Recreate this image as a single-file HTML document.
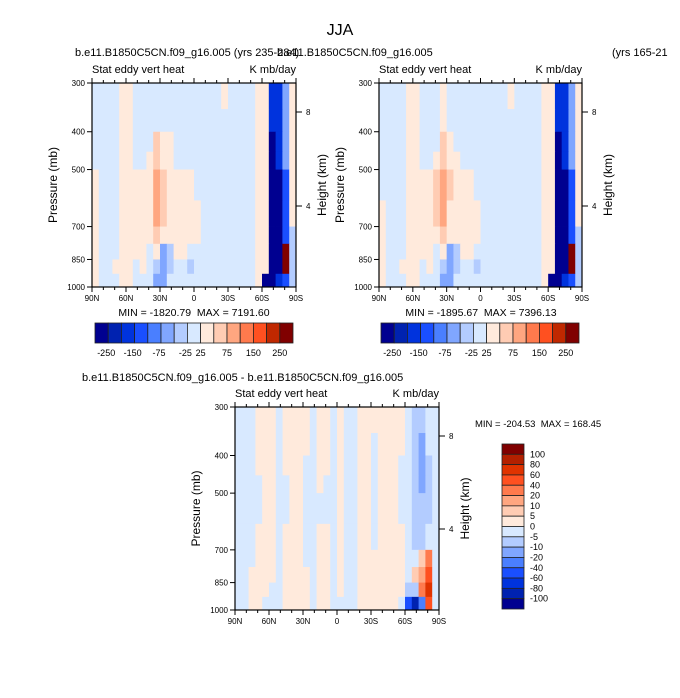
<!DOCTYPE html>
<html><head><meta charset="utf-8"><style>
body{margin:0;background:#fff}
svg{display:block;font-family:"Liberation Sans",sans-serif}
svg text{white-space:pre}
</style></head><body>
<svg id="fig" width="680" height="698" viewBox="0 0 680 698" xmlns="http://www.w3.org/2000/svg">
<rect width="680" height="698" fill="#fff"/>
<text x="340" y="35" font-size="16" text-anchor="middle">JJA</text>
<text x="75" y="56" font-size="11">b.e11.B1850C5CN.f09_g16.005 (yrs 235-284)</text>
<text x="277" y="56" font-size="11">b.e11.B1850C5CN.f09_g16.005</text>
<text x="612" y="56" font-size="11">(yrs 165-21</text>
<text x="82" y="381" font-size="11">b.e11.B1850C5CN.f09_g16.005 - b.e11.B1850C5CN.f09_g16.005</text>
<g id="panels"></g>
</svg>
<script>
// ---- data ----
const levels = [300,350,400,450,500,600,700,775,850,925,1000];
const xTickLabels = ["90N","60N","30N","0","30S","60S","90S"];
const yTickLabels = [300,400,500,700,850,1000];
const heightTicks = [8,4];
const bounds12 = [-250,-200,-150,-100,-75,-50,-25,25,50,75,100,150,200,250];
const cbLabels12 = ["-250","-150","-75","-25","25","75","150","250"];
const cbLabelIdx12 = [0,2,4,6,7,9,11,13];
const bounds3 = [-100,-80,-60,-40,-20,-10,-5,0,5,10,20,40,60,80,100];
const cbLabels3 = ["100","80","60","40","20","10","5","0","-5","-10","-20","-40","-60","-80","-100"];
// field rows top(300mb) to bottom(1000mb), 30 columns 90N->90S (6 deg each)
const field1 = [
[-10,-10,-10,-10,35,35,-10,-10,-10,-10,-10,-10,-10,-10,-10,-10,-10,-10,-10,35,-10,-10,-10,-10,35,35,-175,-175,-60,35],
[-10,-10,-10,-10,35,35,-10,-10,-10,-10,-10,-10,-10,-10,-10,-10,-10,-10,-10,-10,-10,-10,-10,-10,35,35,-175,-175,-60,35],
[-10,-10,-10,-10,35,35,-10,-10,-10,60,35,35,-10,-10,-10,-10,-10,-10,-10,-10,-10,-10,-10,-10,35,35,-300,-175,-60,35],
[-10,-10,-10,-10,35,35,-10,-10,35,60,35,35,-10,-10,-10,-10,-10,-10,-10,-10,-10,-10,-10,-10,35,35,-300,-175,-60,35],
[35,-10,-10,-10,35,35,35,35,35,90,60,35,35,35,35,-10,-10,-10,-10,-10,-10,-10,-10,-10,35,35,-300,-300,-120,35],
[35,-10,-10,-10,35,35,35,35,35,90,60,35,35,35,35,35,-10,-10,-10,-10,-10,-10,-10,-10,35,35,-300,-300,-120,35],
[35,-10,-10,-10,35,35,35,35,35,60,35,35,35,35,35,35,-10,-10,-10,-10,-10,-10,-10,-10,35,35,-300,-300,-120,-30],
[35,-10,-10,-10,35,35,35,35,-10,35,-60,-30,35,35,-10,-10,-10,-10,-10,-10,-10,-10,-10,-10,35,35,-300,-300,300,-30],
[35,-10,-10,35,35,35,-10,35,-10,-30,-60,-30,-10,-10,-30,-10,-10,-10,-10,-10,-10,-10,-10,-10,35,35,-300,-300,300,-30],
[35,-10,-10,-10,35,35,-10,-10,-10,-60,-60,-10,-10,-10,-10,-10,-10,-10,-10,-10,-10,-10,-10,-10,35,-300,-300,-175,-120,-30]
];
const field2 = [
[-10,-10,-10,-10,35,35,-10,-10,-10,35,-10,-10,-10,-10,-10,-10,-10,-10,-10,35,-10,-10,-10,-10,35,35,-175,-175,-60,35],
[-10,-10,-10,-10,35,35,-10,-10,-10,35,-10,-10,-10,-10,-10,-10,-10,-10,-10,-10,-10,-10,-10,-10,35,35,-175,-175,-60,35],
[-10,-10,-10,-10,35,35,-10,-10,-10,60,35,-10,-10,-10,-10,-10,-10,-10,-10,-10,-10,-10,-10,-10,35,35,-300,-175,-60,35],
[-10,-10,-10,-10,35,35,-10,-10,35,60,35,35,-10,-10,-10,-10,-10,-10,-10,-10,-10,-10,-10,-10,35,35,-300,-175,-60,35],
[-10,-10,-10,-10,35,35,35,35,60,90,60,35,35,35,-10,-10,-10,-10,-10,-10,-10,-10,-10,-10,35,35,-300,-300,-120,35],
[35,-10,-10,-10,35,35,35,35,60,90,35,35,35,35,35,-10,-10,-10,-10,-10,-10,-10,-10,-10,35,35,-300,-300,-120,35],
[35,-10,-10,-10,35,35,35,35,35,60,35,35,35,35,35,-10,-10,-10,-10,-10,-10,-10,-10,-10,35,35,-300,-300,-120,-30],
[35,-10,-10,-10,35,35,35,35,-10,35,-60,-30,35,35,-10,-10,-10,-10,-10,-10,-10,-10,-10,-10,35,35,-300,-300,300,-30],
[35,-10,-10,35,35,35,-10,35,-10,-30,-60,-30,-10,-10,-30,-10,-10,-10,-10,-10,-10,-10,-10,-10,35,35,-300,-300,300,-30],
[35,-10,-10,-10,35,35,-10,-10,-10,-60,-60,-10,-10,-10,-10,-10,-10,-10,-10,-10,-10,-10,-10,-10,35,-300,-300,-175,-120,-30]
];
const field3 = [
[-2,-2,-2,2,2,2,-2,2,2,2,2,-2,2,2,-2,2,-2,-2,2,2,2,2,2,2,2,-2,-8,-8,-2,-2],
[-2,-2,-2,2,2,2,-2,2,2,2,2,-2,2,2,-2,2,-2,-2,2,2,-2,2,2,2,2,-2,-8,-15,-2,-2],
[-2,-2,-2,2,2,2,-2,2,2,2,-2,-2,2,2,-2,2,-2,-2,2,2,-2,2,2,2,-2,-2,-8,-15,-8,-2],
[-2,-2,-2,-2,2,2,-2,-2,2,2,-2,-2,2,-2,-2,2,-2,-2,2,2,-2,2,2,2,-2,-2,-8,-15,-8,-2],
[-2,-2,-2,-2,2,2,-2,-2,2,2,-2,-2,-2,-2,-2,2,-2,-2,2,2,-2,2,2,2,-2,-2,-8,-8,-8,-2],
[-2,-2,-2,2,2,2,-2,2,2,2,-2,-2,2,2,-2,2,-2,-2,2,2,-2,2,2,2,2,-2,-8,-8,-2,-2],
[-2,-2,-2,2,2,2,-2,2,2,2,-2,-2,2,2,-2,2,-2,-2,2,2,2,2,2,2,2,-2,-2,7,30,-2],
[-2,-2,2,2,2,2,-2,2,2,2,2,-2,2,2,-2,2,-2,-2,2,2,2,2,2,2,2,-2,7,15,50,-2],
[-2,-2,2,2,2,-2,-2,2,2,2,2,-2,2,2,-2,2,-2,-2,2,2,2,2,2,2,2,-8,-8,30,70,-2],
[-2,-2,2,2,-2,-2,-2,2,2,2,2,-2,2,2,-2,-2,-2,-2,2,2,2,2,2,2,-2,-50,-90,-30,40,-2]
];
// ---- styles ----
const colors12 = ['#000090','#0022b0','#0033dd','#1a4fff','#4a7fff','#80a6ff','#b3ccff','#d8e9ff','#ffeadc','#ffccb3','#ffa680','#ff7a4d','#ff5020','#c02800','#800000'];
const colors3 = ['#000090','#0022b0','#0033dd','#1a4fff','#4a7fff','#80a6ff','#b3ccff','#d8e9ff','#ffeadc','#ffccb3','#ffa680','#ff7a4d','#ff5020','#e03300','#b32000','#800000'];
const NS="http://www.w3.org/2000/svg";
const root=document.getElementById('panels');
function mk(tag,attrs,parent){const e=document.createElementNS(NS,tag);for(const k in attrs)e.setAttribute(k,attrs[k]);(parent||root).appendChild(e);return e;}
function colorFor(v,bounds,cols){let i=0;while(i<bounds.length&&v>=bounds[i])i++;return cols[i];}

function panel(id,L,T,W,H,field,bounds,cols,hY){
  const g=mk('g',{});
  
  
  const xs=lat=>L+(90-lat)/180*W;
  const ys=p=>T+(Math.log(p)-Math.log(300))/(Math.log(1000)-Math.log(300))*H;
  const nc=field[0].length;
  field.forEach((row,r)=>{row.forEach((v,c)=>{
    const lat0=90-c*180/nc, lat1=90-(c+1)*180/nc;
    const x0=xs(lat0),x1=xs(lat1),y0=ys(levels[r]),y1=ys(levels[r+1]);
    const rc=mk('rect',{x:x0,y:y0,width:x1-x0+0.4,height:y1-y0+0.4,fill:colorFor(v,bounds,cols)},g);
    
    
  });});
  const fr=mk('rect',{x:L,y:T,width:W,height:H,fill:'none',stroke:'#000','stroke-width':1.2},g);
  
  
  xTickLabels.forEach((lab,i)=>{
    const x=L+i*W/6;
    mk('line',{x1:x,y1:T+H,x2:x,y2:T+H+5,stroke:'#000'},g);
    mk('line',{x1:x,y1:T,x2:x,y2:T-5,stroke:'#000'},g);
    const t=mk('text',{x:x,y:T+H+14,'font-size':8,'text-anchor':'middle'},g);t.textContent=lab;
    
    
  });
  for(let k=1;k<18;k++){if(k%3==0)continue;const x=L+k*W/18;
    mk('line',{x1:x,y1:T+H,x2:x,y2:T+H+3,stroke:'#000'},g);
    mk('line',{x1:x,y1:T,x2:x,y2:T-3,stroke:'#000'},g);}
  yTickLabels.forEach(p=>{const y=ys(p);
    mk('line',{x1:L,y1:y,x2:L-5,y2:y,stroke:'#000'},g);
    const t=mk('text',{x:L-7,y:y+3,'font-size':8,'text-anchor':'end'},g);t.textContent=p;
    
    
  });
  heightTicks.forEach((h,i)=>{const y=hY[i];
    mk('line',{x1:L+W,y1:y,x2:L+W+6,y2:y,stroke:'#000'},g);
    const t=mk('text',{x:L+W+10,y:y+3,'font-size':8},g);t.textContent=h;
    
    
  });
  const s1=mk('text',{x:L,y:T-10,'font-size':11},g);s1.textContent='Stat eddy vert heat';
  
  
  const s2=mk('text',{x:L+W,y:T-10,'font-size':11,'text-anchor':'end'},g);s2.textContent='K mb/day';
  
  
  const cy=T+H/2;
  const yl=mk('text',{x:L-35,y:cy,'font-size':12,'text-anchor':'middle',transform:`rotate(-90 ${L-35} ${cy})`},g);yl.textContent='Pressure (mb)';
  
  
  const hx=L+W+30;
  const hl=mk('text',{x:hx,y:cy,'font-size':12,'text-anchor':'middle',transform:`rotate(-90 ${hx} ${cy})`},g);hl.textContent='Height (km)';
  
  
  return g;
}
function hbar(id,L,T,W,H){
  const g=mk('g',{});
  
  
  const n=colors12.length,bw=W/n;
  colors12.forEach((c,i)=>{const r=mk('rect',{x:L+i*bw,y:T,width:bw,height:H,fill:c,stroke:'#222','stroke-width':0.8},g);
    
    });
  cbLabels12.forEach((lab,i)=>{const x=L+(cbLabelIdx12[i]+1)*bw-(lab[0]=='-'?2:0);
    const t=mk('text',{x:x,y:T+H+13,'font-size':9,'text-anchor':'middle'},g);t.textContent=lab;
    
    });
}
function txt(name,x,y,s,size,anchor){const t=mk('text',{x:x,y:y,'font-size':size,'text-anchor':anchor||'start'});t.textContent=s;
  
  }

panel('panel1-plot',92,83,204,204,field1,bounds12,colors12,[112,206]);
panel('panel2-plot',379,83,203,204,field2,bounds12,colors12,[112,206]);
panel('panel3-plot',235,407,204,203,field3,bounds3,colors3,[436,529]);
txt('panel1-minmax',194,316,'MIN = -1820.79  MAX = 7191.60',10.5,'middle');
txt('panel2-minmax',481,316,'MIN = -1895.67  MAX = 7396.13',10.5,'middle');
txt('panel3-minmax',475,427,'MIN = -204.53  MAX = 168.45',9.5,'start');
hbar('panel1-colorbar',95,323,198,20);
hbar('panel2-colorbar',381,323,198,20);
(function(){
  const g=mk('g',{});
  
  
  const L=502,T=444,W=22,H=165,n=colors3.length,bh=H/n;
  colors3.slice().reverse().forEach((c,i)=>{const r=mk('rect',{x:L,y:T+i*bh,width:W,height:bh,fill:c,stroke:'#222','stroke-width':0.8},g);
    
    });
  cbLabels3.forEach((lab,i)=>{const t=mk('text',{x:L+W+6,y:T+(i+1)*bh+3,'font-size':9},g);t.textContent=lab;
    
    });
})();
</script>
</body></html>
